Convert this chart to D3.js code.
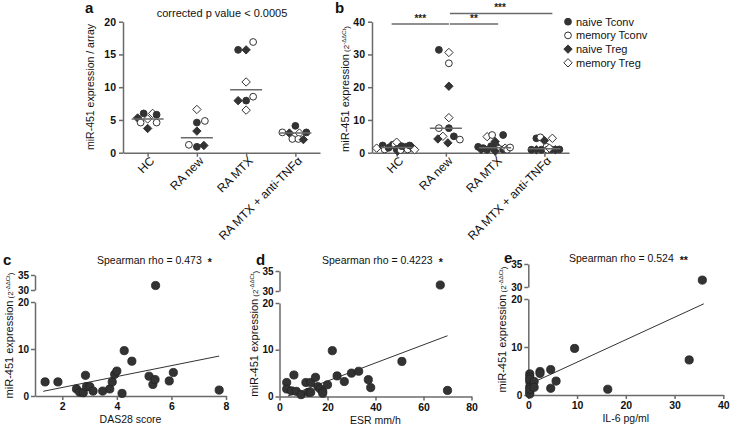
<!DOCTYPE html>
<html><head><meta charset="utf-8">
<script src="https://cdn.jsdelivr.net/npm/d3@7"></script>
<style>
body{margin:0;background:#fff;}
svg{display:block;font-family:"Liberation Sans",Arial,sans-serif;}
</style></head>
<body><svg id="chart" width="731" height="428"></svg>
<script>
// ---------------- DATA ----------------
const categories = ["HC", "RA new", "RA MTX", "RA MTX + anti-TNF\u03b1"];
const legendTypes = ["naive Tconv", "memory Tconv", "naive Treg", "memory Treg"];
// panel a: [type index, value, swarm slot]
const aHC    = [[2,5.3,-10],[0,6.0,-4],[1,4.6,-7],[3,5.15,0],[3,6.0,5],[0,5.8,9],[1,4.6,9],[2,3.7,0]];
const aRAnew = [[3,6.6,0],[0,4.6,0],[1,4.85,8],[2,3.3,0],[1,1.2,-8],[0,0.9,0],[2,1.1,7]];
const aRAMTX = [[0,15.7,-8],[2,15.7,0],[1,16.9,7],[3,10.8,0],[2,7.95,-8],[0,7.95,0],[1,8.55,7],[3,6.5,0]];
const aTNF   = [[1,3.1,-13],[2,3.0,-6],[0,4.1,0],[3,3.0,4],[0,3.1,11],[1,2.1,-3],[1,2.1,3],[2,2.0,8]];
const aMedians = [5.15, 2.3, 9.6, 3.0];
const aTicks = [0,5,10,15,20];
// panel b
const bHC    = [[3,1.4,-20],[0,2.2,-14],[1,1.0,-12],[0,1.5,-8],[2,2.3,-5],[1,2.6,-2],[3,3.2,0],[0,1.1,0],[2,0.5,1],[1,0.8,4],[0,2.0,5],[2,1.7,9],[1,1.0,11],[0,2.2,13],[2,1.5,16],[3,0.9,18]];
const bRAnew = [[0,31.4,-7],[3,30.6,3],[1,27.3,3],[2,20.3,3],[3,10.7,3],[1,7.5,-7],[0,7.5,3],[3,5.0,-3],[0,5.0,8],[2,4.2,-8],[1,4.0,14],[2,3.0,2]];
const bRAMTX = [[3,4.9,-8],[1,5.4,-3],[0,5.4,8],[2,3.4,0],[0,2.0,-4],[0,1.4,-12],[0,1.8,-17],[2,1.0,-14],[0,0.9,-8],[2,2.5,0],[1,1.2,4],[0,1.0,8],[3,1.4,10],[1,0.9,12],[1,1.6,15],[2,0.5,0]];
const bTNF   = [[0,4.4,-8],[1,4.7,-4],[2,3.7,0],[3,4.4,8],[1,1.8,2],[0,0.9,-13],[2,0.9,-8],[0,0.9,-3],[1,0.9,3],[0,1.0,7],[2,0.9,11],[0,1.0,15],[3,1.4,5]];
const bMedians = [1.6, 7.5, 1.5, 1.2];
const bTicks = [0,10,20,30,40];
const bSig = [["HC","RA new","***",0],["RA new","RA MTX","**",0],["RA new","RA MTX + anti-TNF\u03b1","***",1]];
// panel c: DAS28
const cX = [1.37,1.84,2.52,2.64,2.77,2.85,2.89,3.01,3.13,3.48,3.74,3.83,3.92,4.0,4.19,4.27,4.55,5.18,5.32,5.40,5.92,6.07,7.75,5.42];
const cY = [3.0,3.0,1.5,0.8,0.7,4.4,2.0,2.0,1.05,1.05,1.5,3.0,4.6,5.3,0.55,9.65,7.4,4.2,2.45,3.5,3.2,5.0,1.26,31.5];
const cFit = [[1.3,1.0],[7.75,8.5]];
const cXTicks = [2,4,6,8];
// panel d: ESR
const dX = [3,3,5,6,7,9,11,12,13,13,15,16,17,18,18,20,22,24,27,30,33,37,38,51,70,67];
const dY = [3.0,1.6,1.2,4.6,1.1,0.4,3.0,0.9,0.9,3.0,4.1,2.1,1.6,1.1,0.7,2.5,9.8,4.4,3.2,5.0,5.4,3.6,1.9,7.5,1.3,31.5];
const dFit = [[3.5,0.1],[70,13]];
const dXTicks = [0,20,40,60,80];
// panel e: IL-6
const eX = [0.3,0.3,0.3,0.3,0.3,0.3,0.3,0.3,1.2,1.2,2.4,2.4,4.6,4.6,5.7,9.5,16.3,33,35.7];
const eY = [4.4,3.8,2.8,1.7,0.7,0.2,3.3,1.2,2.8,1.6,4.9,4.5,5.3,1.4,2.9,9.7,1.2,7.3,31.5];
const eFit = [[0.3,2.3],[36,19]];
const eXTicks = [0,10,20,30,40];
const lowTicks = [0,10,20], upTicks = [30,35];

// ---------------- DRAW ----------------
const svg = d3.select("#chart");
svg.append("rect").attr("width",731).attr("height",428).attr("fill","#fff");
const AX = "#6a6a6a", DARK = "#333";
const fmt = d3.format("d");

function styleAxis(g, fs){
  g.select(".domain").attr("stroke",AX).attr("stroke-width",1.5);
  g.selectAll(".tick line").attr("stroke",AX).attr("stroke-width",1.5);
  g.selectAll(".tick text").attr("fill","#111").attr("font-weight","bold").attr("font-size",fs||10.5)
   .attr("font-family","'Liberation Sans',Arial,sans-serif");
}
function marker(g, type, x, y){
  const filled = (type===0||type===2);
  const fill = filled?DARK:"#fff";
  if(type<2){
    g.append("circle").attr("cx",x).attr("cy",y).attr("r",3.4).attr("fill",fill).attr("stroke",DARK).attr("stroke-width",1);
  } else {
    const s=4.2;
    g.append("path").attr("d",`M${x},${y-s}L${x+s},${y}L${x},${y+s}L${x-s},${y}Z`).attr("fill",fill).attr("stroke",DARK).attr("stroke-width",1);
  }
}
function yLabel(x, yc, main, sup, fs){
  const t = svg.append("text").attr("transform",`translate(${x},${yc}) rotate(-90)`).attr("text-anchor","middle")
    .attr("font-size",fs).attr("fill","#111");
  t.append("tspan").text(main);
  if(sup){
    t.append("tspan").attr("font-size",fs*0.72).text(" (2");
    t.append("tspan").attr("font-size",fs*0.55).attr("dy",-3.5).text("-\u0394\u0394Ct");
    t.append("tspan").attr("font-size",fs*0.72).attr("dy",3.5).text(")");
  }
}
function panelLetter(x,y,l){
  svg.append("text").attr("x",x).attr("y",y).attr("font-size",15).attr("font-weight","bold").attr("fill","#111").text(l);
}

function dotPanel(cfg){
  const y = d3.scaleLinear().domain(cfg.yDomain).range([152.7,21.7]);
  const x = d3.scalePoint().domain(categories).range(cfg.xRange).padding(0.5);
  const gy = svg.append("g").attr("transform",`translate(${cfg.xRange[0]},0)`)
    .call(d3.axisLeft(y).tickValues(cfg.ticks).tickFormat(fmt).tickSize(4).tickSizeOuter(0).tickPadding(3));
  styleAxis(gy);
  const gx = svg.append("g").attr("transform",`translate(0,152.7)`)
    .call(d3.axisBottom(x).tickSize(4).tickSizeOuter(0));
  styleAxis(gx);
  gx.selectAll(".tick text").attr("font-weight","normal").attr("font-size",12)
    .attr("text-anchor","end").attr("transform","translate(4,6) rotate(-45)").attr("dy","0.35em").attr("y",0).attr("x",0);
  const slot = d3.scaleLinear().domain([-1,1]).range([-1,1]);
  const g = svg.append("g");
  cfg.groups.forEach((grp,i)=>{
    const cx = x(categories[i]);
    grp.forEach(p=> marker(g, p[0], cx+slot(p[2]), y(p[1])));
    g.append("line").attr("x1",cx-16).attr("x2",cx+16).attr("y1",y(cfg.medians[i])).attr("y2",y(cfg.medians[i]))
      .attr("stroke",AX).attr("stroke-width",1.5);
  });
  return {x,y};
}

// panel a
dotPanel({yDomain:[0,20], xRange:[123,320], ticks:aTicks, groups:[aHC,aRAnew,aRAMTX,aTNF], medians:aMedians});
yLabel(94, 87, "miR-451 expression / array", false, 10.5);
svg.append("text").attr("x",222).attr("y",17).attr("text-anchor","middle").attr("font-size",11).attr("fill","#111").text("corrected p value < 0.0005");
panelLetter(85,13,"a");

// panel b
const pb = dotPanel({yDomain:[0,40], xRange:[372,569], ticks:bTicks, groups:[bHC,bRAnew,bRAMTX,bTNF], medians:bMedians});
yLabel(349, 89, "miR-451 expression", true, 11);
panelLetter(335,13,"b");
bSig.forEach(s=>{
  const x2 = pb.x(s[1])+ (s[3]?8:3);
  const yy = s[3]?13.5:24;
  const xa = s[0]==="HC"? pb.x(s[0])-5 : pb.x(s[0])+4;
  svg.append("line").attr("x1",xa).attr("x2",x2).attr("y1",yy).attr("y2",yy).attr("stroke",AX).attr("stroke-width",1.5);
  svg.append("text").attr("x",s[3]? (pb.x(s[1])-pb.x(s[0]))*0.55+pb.x(s[0]) : (xa+x2)/2).attr("y",yy-2.5)
    .attr("text-anchor","middle").attr("font-size",10).attr("font-weight","bold").attr("fill","#222").text(s[2]);
});
// legend
const lg = svg.append("g");
legendTypes.forEach((t,i)=>{
  const yy = 21.7 + i*13.7;
  marker(lg, i, 568, yy);
  lg.append("text").attr("x",576).attr("y",yy).attr("dy","0.35em").attr("font-size",11).attr("fill","#111").text(t);
});

// scatter panels
function scatterPanel(cfg){
  const x = d3.scaleLinear().domain(cfg.xDomain).range(cfg.xRange);
  const yLow = d3.scaleLinear().domain([0,20]).range([cfg.yPix[0],cfg.yPix[1]]);
  const yUp = d3.scaleLinear().domain([30,35]).range([cfg.yPix[2],cfg.yPix[3]]);
  const yPos = v => v<=20 ? yLow(v) : yUp(v);
  const x0 = cfg.xRange[0];
  const g1 = svg.append("g").attr("transform",`translate(${x0},0)`).call(d3.axisLeft(yLow).tickValues(lowTicks).tickFormat(fmt).tickSize(4).tickSizeOuter(0).tickPadding(2));
  styleAxis(g1, 10);
  const g2 = svg.append("g").attr("transform",`translate(${x0},0)`).call(d3.axisLeft(yUp).tickValues(upTicks).tickFormat(fmt).tickSize(4).tickSizeOuter(0).tickPadding(2));
  styleAxis(g2, 10);
  const gx = svg.append("g").attr("transform",`translate(0,${cfg.yPix[0]})`).call(d3.axisBottom(x).tickValues(cfg.xTicks).tickFormat(fmt).tickSize(4).tickSizeOuter(0).tickPadding(3));
  styleAxis(gx);
  svg.append("line").attr("x1",x(cfg.fit[0][0])).attr("y1",yLow(cfg.fit[0][1])).attr("x2",x(cfg.fit[1][0])).attr("y2",yLow(cfg.fit[1][1]))
    .attr("stroke","#333").attr("stroke-width",1);
  const g = svg.append("g");
  cfg.xs.forEach((v,i)=>{
    g.append("circle").attr("cx",x(v)).attr("cy",yPos(cfg.ys[i])).attr("r",4.1).attr("fill",DARK).attr("stroke","#222").attr("stroke-width",0.8);
  });
  svg.append("text").attr("x",(cfg.xRange[0]+cfg.xRange[1])/2).attr("y",cfg.yPix[0]+27).attr("text-anchor","middle")
    .attr("font-size",10.5).attr("fill","#111").text(cfg.xLabel);
  const tt = svg.append("text").attr("x",cfg.titleX).attr("y",cfg.titleY).attr("font-size",10.5).attr("fill","#111");
  tt.append("tspan").text(cfg.title);
  tt.append("tspan").attr("dx",6).attr("font-weight","bold").attr("dy",2).text(cfg.stars);
  yLabel(x0-22, (cfg.yPix[0]+cfg.yPix[3])/2, "miR-451 expression", true, 11);
  panelLetter(cfg.letterX, cfg.titleY+1, cfg.letter);
}
scatterPanel({xDomain:[1,8], xRange:[35,226], yPix:[396,302,290,275], xTicks:cXTicks, xs:cX, ys:cY, fit:cFit,
  xLabel:"DAS28 score", title:"Spearman rho = 0.473", stars:"*", titleX:97, titleY:264, letter:"c", letterX:3});
scatterPanel({xDomain:[0,80], xRange:[279.5,471.5], yPix:[396.5,303,291,271], xTicks:dXTicks, xs:dX, ys:dY, fit:dFit,
  xLabel:"ESR mm/h", title:"Spearman rho = 0.4223", stars:"*", titleX:322, titleY:264, letter:"d", letterX:256});
scatterPanel({xDomain:[0,40], xRange:[528.3,723.3], yPix:[395,299,287,264], xTicks:eXTicks, xs:eX, ys:eY, fit:eFit,
  xLabel:"IL-6 pg/ml", title:"Spearman rho = 0.524", stars:"**", titleX:569, titleY:262, letter:"e", letterX:504});
</script></body></html>
